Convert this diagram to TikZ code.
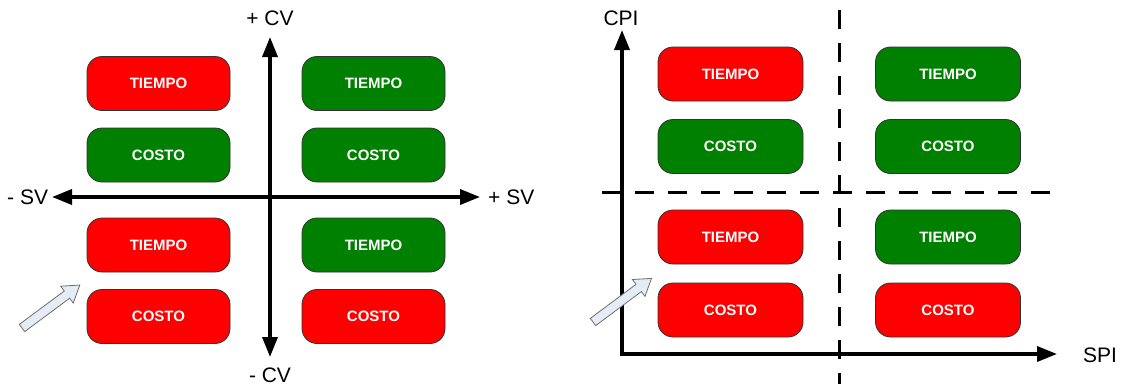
\documentclass[tikz,border=0pt]{standalone}
\usepackage{fontspec}
\setmainfont{Liberation Sans}
\usetikzlibrary{arrows.meta}
\definecolor{boxred}{RGB}{255,0,0}
\definecolor{boxgreen}{RGB}{0,128,0}
\definecolor{boxedge}{RGB}{51,51,51}
\definecolor{hintfill}{RGB}{230,236,245}
\definecolor{hintedge}{RGB}{110,110,110}
\tikzset{
  qbox/.style={draw=boxedge, line width=0.8pt, rounded corners=15pt,
    minimum height=54pt, text=white, font=\bfseries\fontsize{15}{15}\selectfont,
    inner sep=0pt},
  redbox/.style={qbox, fill=boxred},
  greenbox/.style={qbox, fill=boxgreen},
  axislabel/.style={inner sep=0pt, font=\fontsize{21}{21}\selectfont},
  axisline/.style={line width=3.5pt, -{Triangle[length=20pt,width=15pt]}},
  axisboth/.style={line width=3.5pt, {Triangle[length=20pt,width=15pt]}-{Triangle[length=20pt,width=15pt]}},
  quadline/.style={line width=3pt, dash pattern=on 19pt off 14pt},
  hintarrow/.style={draw=hintedge, fill=hintfill, line width=0.8pt, line join=miter}
}
\begin{document}
\begin{tikzpicture}[x=1pt,y=-1pt]
\useasboundingbox (0,0) rectangle (1133,386);

% ---------- left panel ----------
\coordinate (cvtop) at (270,37);
\coordinate (cvbot) at (270,357);
\coordinate (svleft) at (52,197);
\coordinate (svright) at (480,197);
\draw[axisboth] (cvbot) -- (cvtop);
\draw[axisboth] (svleft) -- (svright);

\node[axislabel, anchor=base] (lcvp) at (270,25) {+ CV};
\node[axislabel, anchor=base] (lcvm) at (270,382) {- CV};
\node[axislabel, anchor=base west] (lsvm) at (7,204) {- SV};
\node[axislabel, anchor=base west] (lsvp) at (488,204) {+ SV};

\node[redbox, minimum width=143pt] (l11) at (158.5,83.5) {TIEMPO};
\node[greenbox, minimum width=143pt] (l12) at (158.5,155) {COSTO};
\node[greenbox, minimum width=143pt] (l21) at (373.5,83.5) {TIEMPO};
\node[greenbox, minimum width=143pt] (l22) at (373.5,155) {COSTO};
\node[redbox, minimum width=143pt] (l31) at (158.5,245) {TIEMPO};
\node[redbox, minimum width=143pt] (l32) at (158.5,316.5) {COSTO};
\node[greenbox, minimum width=143pt] (l41) at (373.5,245) {TIEMPO};
\node[redbox, minimum width=143pt] (l42) at (373.5,316.5) {COSTO};

\begin{scope}[shift={(22,328)}, rotate=36.6]
  \draw[hintarrow] (0,-4.5) -- (56,-4.5) -- (56,-10.5) -- (72,0) -- (56,10.5) -- (56,4.5) -- (0,4.5) -- cycle;
\end{scope}

% ---------- right panel ----------
\coordinate (cpitop) at (622,30);
\coordinate (origin) at (622,354);
\coordinate (spiend) at (1057,354);
\coordinate (dvtop) at (839,10);
\coordinate (dvbot) at (839,384);
\coordinate (dhl) at (602,192);
\coordinate (dhr) at (1055,192);
\draw[quadline] (dvtop) -- (dvbot);
\draw[quadline] (dhl) -- (dhr);
\draw[axisboth, line join=miter] (cpitop) -- (origin) -- (spiend);

\node[axislabel, anchor=base] (rcpi) at (621,25) {CPI};
\node[axislabel, anchor=base west] (rspi) at (1083,362) {SPI};

\node[redbox, minimum width=145pt] (r11) at (730.5,74) {TIEMPO};
\node[greenbox, minimum width=145pt] (r12) at (730.5,146.5) {COSTO};
\node[greenbox, minimum width=145pt] (r21) at (948,74) {TIEMPO};
\node[greenbox, minimum width=145pt] (r22) at (948,146.5) {COSTO};
\node[redbox, minimum width=145pt] (r31) at (730.5,237) {TIEMPO};
\node[redbox, minimum width=145pt] (r32) at (730.5,310) {COSTO};
\node[greenbox, minimum width=145pt] (r41) at (948,237) {TIEMPO};
\node[redbox, minimum width=145pt] (r42) at (948,310) {COSTO};

\begin{scope}[shift={(593,322)}, rotate=36.7]
  \draw[hintarrow] (0,-4.5) -- (57,-4.5) -- (57,-10.5) -- (73,0) -- (57,10.5) -- (57,4.5) -- (0,4.5) -- cycle;
\end{scope}
\end{tikzpicture}
\end{document}
